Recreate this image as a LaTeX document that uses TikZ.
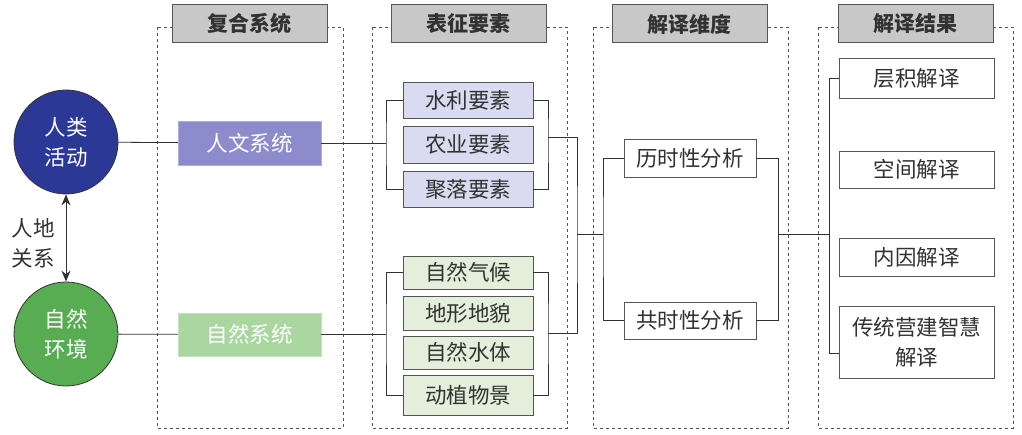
\documentclass[tikz,border=0pt]{standalone}
\usepackage{fontspec}
\setmainfont{Noto Sans CJK SC}
\usepackage{tikz}
\usetikzlibrary{arrows.meta,calc}
\definecolor{navy}{RGB}{44,56,150}
\definecolor{grass}{RGB}{88,172,82}
\definecolor{lavender}{RGB}{140,140,204}
\definecolor{mint}{RGB}{170,214,160}
\definecolor{palepurple}{RGB}{218,218,240}
\definecolor{palegreen}{RGB}{227,239,219}
\definecolor{headgray}{RGB}{200,200,200}
\definecolor{edge}{RGB}{85,85,85}
\definecolor{ink}{RGB}{50,50,50}

\begin{document}
\begin{tikzpicture}[x=1pt,y=-1pt,
  every node/.style={font=\fontsize{21.5}{30}\selectfont, text=ink, inner sep=0pt},
  column/.style={draw=edge, dashed, line width=0.8pt},
  headbox/.style={draw=edge, fill=headgray, line width=1pt, minimum width=155pt, minimum height=38pt, font=\fontsize{21}{30}\selectfont\bfseries},
  agent/.style={circle, draw=black!80, line width=0.8pt, minimum size=104pt, text=white, align=center},
  sysbox/.style={draw=#1!70!white, fill=#1, minimum width=143pt, minimum height=44pt, text=white},
  elem/.style={draw=edge, fill=#1, line width=0.8pt, minimum width=130pt},
  dimbox/.style={draw=edge, fill=white, line width=0.8pt, minimum width=132pt},
  resbox/.style={draw=edge, fill=white, line width=0.8pt, minimum width=155pt, align=center},
  link/.style={draw=ink, line width=0.8pt}]
\useasboundingbox (0,0) rectangle (1022,435);

% columns
\draw[column] (157,27) rectangle (343,428);
\draw[column] (372,27) rectangle (567,428);
\draw[column] (593,27) rectangle (788,428);
\draw[column] (818,27) rectangle (1013,428);
\node[headbox] (hd1) at (249.5,24) {复合系统};
\node[headbox] (hd2) at (468.5,24) {表征要素};
\node[headbox] (hd3) at (689.5,24) {解译维度};
\node[headbox] (hd4) at (915.5,24) {解译结果};

% agents
\node[agent, fill=navy] (ha) at (66,142) {人类\\活动};
\node[agent, fill=grass] (ne) at (66,334) {自然\\环境};
\draw[link, line width=1pt, {Stealth[length=11pt,width=9pt]}-{Stealth[length=11pt,width=9pt]}] (ha) -- (ne);
\node[align=left, anchor=east] (rel) at (55,243) {人地\\关系};

% systems
\node[sysbox=lavender] (hs) at (249.5,143) {人文系统};
\node[sysbox=mint, minimum height=43pt] (ns) at (249.5,334.5) {自然系统};

% elements
\node[elem=palepurple, minimum height=36pt] (e1) at (468,100) {水利要素};
\node[elem=palepurple, minimum height=37pt] (e2) at (468,144.5) {农业要素};
\node[elem=palepurple, minimum height=36pt] (e3) at (468,189) {聚落要素};
\node[elem=palegreen, minimum height=33pt] (g1) at (468,272.5) {自然气候};
\node[elem=palegreen, minimum height=34pt] (g2) at (468,313) {地形地貌};
\node[elem=palegreen, minimum height=33pt] (g3) at (468,352.5) {自然水体};
\node[elem=palegreen, minimum height=40pt] (g4) at (468,395) {动植物景};

% dimensions
\node[dimbox, minimum height=38pt] (d1) at (690,158) {历时性分析};
\node[dimbox, minimum height=37pt] (d2) at (690,320.5) {共时性分析};

% results
\node[resbox, minimum height=40pt] (r1) at (916.5,78) {层积解译};
\node[resbox, minimum height=37pt] (r2) at (916.5,169.5) {空间解译};
\node[resbox, minimum height=38pt] (r3) at (916.5,257) {内因解译};
\node[resbox, minimum height=72pt] (r4) at (916.5,342) {传统营建智慧\\解译};

% connectors
\coordinate (hb) at (386,143);
\coordinate (hr) at (548,137);
\coordinate (nb) at (386,334.5);
\coordinate (nr) at (548,333);
\coordinate (bm) at (577,234);
\coordinate (db) at (603,234);
\coordinate (dr) at (778,234);
\coordinate (rb) at (829,234);
\draw[link] (ha) -- (hs);
\draw[link] (ne) -- (ns);
\draw[link] (hs) -- (hb);
\draw[link] (ns) -- (nb);
\draw[link] (e1.west) -| (hb) |- (e3.west);
\draw[link] (g1.west) -| (nb) |- (g4.west);
\draw[link] (e1.east) -| (hr) |- (e3.east);
\draw[link] (g1.east) -| (nr) |- (g4.east);
\draw[link] (hr) -| (bm) |- (nr);
\draw[link] (bm) -- (db);
\draw[link] (d1.west) -| (db) |- (d2.west);
\draw[link] (d1.east) -| (dr) |- (d2.east);
\draw[link] (dr) -- (rb);
\draw[link] (r1.west) -| (rb) |- ([yshift=-11pt]r4.west);
\end{tikzpicture}
\end{document}
